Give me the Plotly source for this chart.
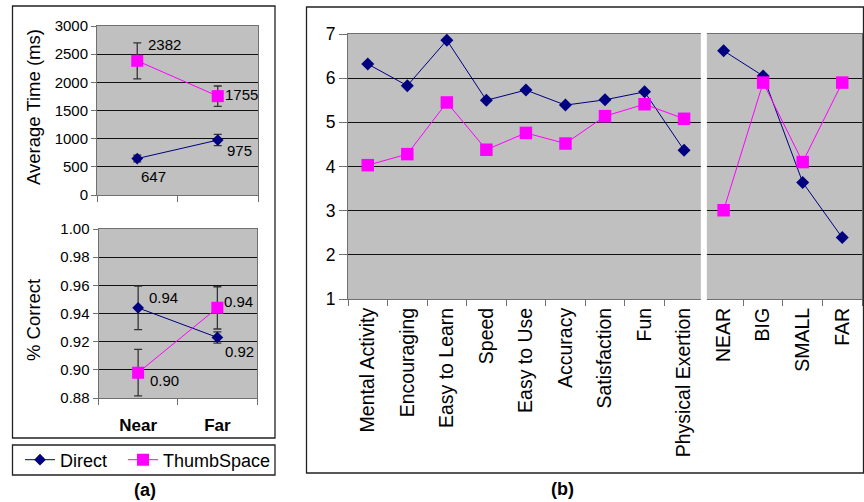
import plotly.graph_objects as go

W, H = 864, 502

# ---------------- data ----------------
conds = ["Near", "Far"]
time_direct = [647, 975]
time_direct_err = [60, 100]
time_thumb = [2382, 1755]
time_thumb_err = [320, 180]

corr_direct = [0.944, 0.923]
corr_direct_err = [0.0155, 0.004]
corr_thumb = [0.898, 0.944]
corr_thumb_err = [0.0165, 0.015]

attr_cats = ["Mental Activity", "Encouraging", "Easy to Learn", "Speed", "Easy to Use",
             "Accuracy", "Satisfaction", "Fun", "Physical Exertion"]
pos_cats = ["NEAR", "BIG", "SMALL", "FAR"]
attr_direct = [6.32, 5.83, 6.86, 5.50, 5.73, 5.39, 5.51, 5.69, 4.37]
attr_thumb = [4.03, 4.28, 5.45, 4.38, 4.76, 4.52, 5.14, 5.41, 5.08]
pos_direct = [6.62, 6.05, 3.64, 2.39]
pos_thumb = [3.01, 5.90, 4.10, 5.90]

time_ticks = [0, 500, 1000, 1500, 2000, 2500, 3000]
corr_ticks = [0.88, 0.90, 0.92, 0.94, 0.96, 0.98, 1.00]
rating_ticks = [1, 2, 3, 4, 5, 6, 7]

# ---------------- styles ----------------
NAVY = "#000080"
MAG = "#FF00FF"
GRAY = "#C0C0C0"
FONT = "Liberation Sans, Arial, sans-serif"


def px(x):
    return x / W


def py(y):
    return 1 - y / H


fig = go.Figure()

err_style = dict(type="data", color="#333333", thickness=1.3, width=4)

# (a) top: average time
fig.add_trace(go.Scatter(x=conds, y=time_direct, name="Direct", mode="lines+markers",
                         line=dict(color=NAVY, width=1),
                         marker=dict(symbol="diamond", size=9, color=NAVY),
                         error_y=dict(array=time_direct_err, **err_style),
                         xaxis="x", yaxis="y", legendgroup="d", showlegend=True,
                         legend="legend"))
fig.add_trace(go.Scatter(x=conds, y=time_thumb, name="ThumbSpace", mode="lines+markers",
                         line=dict(color=MAG, width=1),
                         marker=dict(symbol="square", size=12, color=MAG),
                         error_y=dict(array=time_thumb_err, **err_style),
                         xaxis="x", yaxis="y", legendgroup="t", showlegend=True,
                         legend="legend2"))

# (a) bottom: % correct
fig.add_trace(go.Scatter(x=conds, y=corr_direct, name="Direct", mode="lines+markers",
                         line=dict(color=NAVY, width=1),
                         marker=dict(symbol="diamond", size=9, color=NAVY),
                         error_y=dict(array=corr_direct_err, **err_style),
                         xaxis="x2", yaxis="y2", legendgroup="d", showlegend=False))
fig.add_trace(go.Scatter(x=conds, y=corr_thumb, name="ThumbSpace", mode="lines+markers",
                         line=dict(color=MAG, width=1),
                         marker=dict(symbol="square", size=12, color=MAG),
                         error_y=dict(array=corr_thumb_err, **err_style),
                         xaxis="x2", yaxis="y2", legendgroup="t", showlegend=False))

# (b) ratings
for cats, vals in ((attr_cats, attr_direct), (pos_cats, pos_direct)):
    fig.add_trace(go.Scatter(x=cats, y=vals, name="Direct", mode="lines+markers",
                             line=dict(color=NAVY, width=1),
                             marker=dict(symbol="diamond", size=10, color=NAVY),
                             xaxis="x3", yaxis="y3", legendgroup="d", showlegend=False))
for cats, vals in ((attr_cats, attr_thumb), (pos_cats, pos_thumb)):
    fig.add_trace(go.Scatter(x=cats, y=vals, name="ThumbSpace", mode="lines+markers",
                             line=dict(color=MAG, width=1),
                             marker=dict(symbol="square", size=12.5, color=MAG),
                             xaxis="x3", yaxis="y3", legendgroup="t", showlegend=False))

axis_common = dict(showline=True, linecolor="#707070", linewidth=1, mirror=True,
                   ticks="outside", tickcolor="#707070", zeroline=False, automargin=False)


def tf(size, **kw):
    return dict(family=FONT, size=size, color="#000", **kw)


leg_common = dict(orientation="h", xanchor="left", yanchor="middle",
                  bgcolor="rgba(0,0,0,0)", borderwidth=0,
                  font=dict(family=FONT, size=18, color="#000"), itemwidth=30)

fig.update_layout(
    width=W, height=H, autosize=False,
    margin=dict(l=0, r=0, t=0, b=0, pad=0, autoexpand=False),
    paper_bgcolor="white", plot_bgcolor=GRAY,
    font=dict(family=FONT, color="#000"),
    xaxis=dict(domain=[px(97), px(258)], anchor="y", type="category",
               categoryarray=conds, range=[-0.5, 1.5], tickson="boundaries",
               showticklabels=False, showgrid=False, ticklen=6, **axis_common),
    yaxis=dict(domain=[py(195), py(26)], anchor="x", range=[0, 3000],
               tickvals=time_ticks, showgrid=True, gridcolor="#111", gridwidth=1,
               ticklen=5, tickfont=tf(15), **axis_common),
    xaxis2=dict(domain=[px(98.5), px(257)], anchor="y2", type="category",
                categoryarray=conds, range=[-0.5, 1.5], tickson="boundaries",
                showgrid=False, ticklen=6, ticklabelstandoff=12,
                tickfont=tf(17, weight="bold"), **axis_common),
    yaxis2=dict(domain=[py(398), py(229)], anchor="x2", range=[0.88, 1.00],
                tickvals=corr_ticks, tickformat=".2f", showgrid=True, gridcolor="#111",
                gridwidth=1, ticklen=5, tickfont=tf(15), **axis_common),
    xaxis3=dict(domain=[px(348), px(862)], anchor="y3", type="category",
                categoryarray=attr_cats + pos_cats, range=[-0.5, 12.5],
                tickson="boundaries", tickangle=-90, showgrid=False, ticklen=6,
                tickfont=tf(19.5), **axis_common),
    yaxis3=dict(domain=[py(299), py(34)], anchor="x3", range=[1, 7],
                tickvals=rating_ticks, showgrid=True, gridcolor="#111", gridwidth=1,
                ticklen=8, tickfont=tf(17.5), **axis_common),
    legend=dict(x=px(20), y=py(460), **leg_common),
    legend2=dict(x=px(123), y=py(460), **leg_common),
    showlegend=True,
)

shapes = [
    # outer box (a)
    dict(type="rect", xref="paper", yref="paper", x0=px(12.5), x1=px(275), y0=py(438), y1=py(6),
         line=dict(color="#222", width=1.3), fillcolor="rgba(0,0,0,0)"),
    # legend box
    dict(type="rect", xref="paper", yref="paper", x0=px(12.5), x1=px(275), y0=py(475), y1=py(445),
         line=dict(color="#222", width=1.3), fillcolor="rgba(0,0,0,0)"),
    # outer box (b)
    dict(type="rect", xref="paper", yref="paper", x0=px(306.5), x1=px(863.5), y0=py(473), y1=py(7),
         line=dict(color="#222", width=1.3), fillcolor="rgba(0,0,0,0)"),
    # separator in (b)
    dict(type="line", xref="x3", yref="paper", x0=8.5, x1=8.5, y0=py(306), y1=py(33),
         line=dict(color="white", width=6), layer="above"),
]
fig.update_layout(shapes=shapes)

ann = []
lab_font = dict(family=FONT, size=15, color="#000")


def lab(xref, yref, x, y, text, dx, dy):
    ann.append(dict(xref=xref, yref=yref, x=x, y=y, text=text, showarrow=False,
                    xanchor="left", yanchor="middle", xshift=dx, yshift=dy, font=lab_font))


lab("x", "y", conds[0], time_thumb[0], f"{time_thumb[0]:.0f}", 9, 16)
lab("x", "y", conds[1], time_thumb[1], f"{time_thumb[1]:.0f}", 5, 2)
lab("x", "y", conds[0], time_direct[0], f"{time_direct[0]:.0f}", 2, -18)
lab("x", "y", conds[1], time_direct[1], f"{time_direct[1]:.0f}", 7, -10)
lab("x2", "y2", conds[0], corr_direct[0], f"{corr_direct[0]:.2f}", 9, 10)
lab("x2", "y2", conds[0], corr_thumb[0], f"{corr_thumb[0]:.2f}", 10, -8)
lab("x2", "y2", conds[1], corr_thumb[1], f"{corr_thumb[1]:.2f}", 5, 6)
lab("x2", "y2", conds[1], corr_direct[1], f"{corr_direct[1]:.2f}", 6, -14)

ann.append(dict(xref="paper", yref="paper", x=px(33), y=py(107), text="Average Time (ms)",
                textangle=-90, showarrow=False, xanchor="center", yanchor="middle",
                font=dict(family=FONT, size=18.5, color="#000")))
ann.append(dict(xref="paper", yref="paper", x=px(33), y=py(320), text="% Correct",
                textangle=-90, showarrow=False, xanchor="center", yanchor="middle",
                font=dict(family=FONT, size=18.5, color="#000")))
ann.append(dict(xref="paper", yref="paper", x=px(145), y=py(490), text="<b>(a)</b>",
                showarrow=False, xanchor="center", yanchor="middle",
                font=dict(family=FONT, size=18, color="#000")))
ann.append(dict(xref="paper", yref="paper", x=px(562), y=py(489), text="<b>(b)</b>",
                showarrow=False, xanchor="center", yanchor="middle",
                font=dict(family=FONT, size=18, color="#000")))
fig.update_layout(annotations=ann)

fig.write_html("out.html", config={"displayModeBar": False},
               post_script="document.body.style.margin='0px';"
               "document.body.style.overflow='hidden';")
